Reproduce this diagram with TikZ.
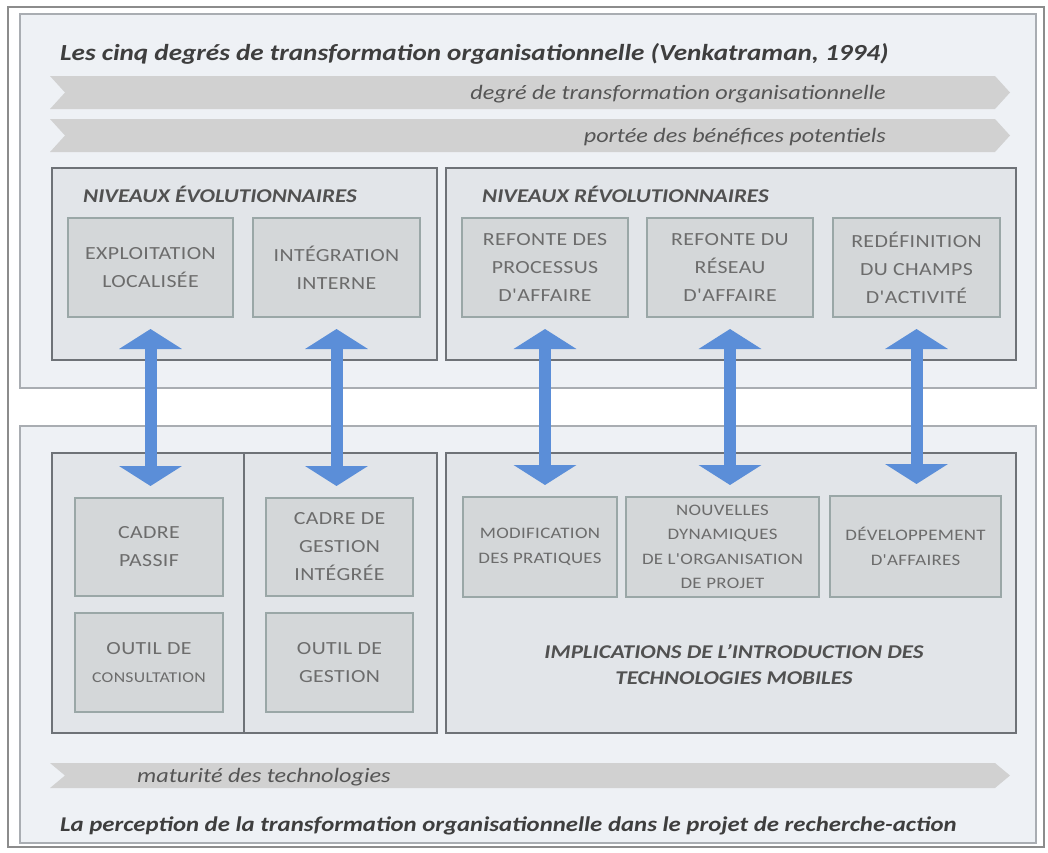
\documentclass[tikz,border=0pt]{standalone}
\usepackage{fontspec}
\setmainfont{Carlito}[FakeStretch=1.18]
\newfontfamily\boxfont{Carlito}[FakeStretch=1.18, LetterSpace=2.0]
\usetikzlibrary{arrows.meta}

\definecolor{framegray}{HTML}{8C8C8C}
\definecolor{panelfill}{HTML}{EEF1F5}
\definecolor{panelline}{HTML}{A9ADB2}
\definecolor{groupfill}{HTML}{E2E5E9}
\definecolor{groupline}{HTML}{6E7277}
\definecolor{cellfill}{HTML}{D4D7D9}
\definecolor{cellline}{HTML}{9AA7A7}
\definecolor{celltext}{HTML}{6C6C6C}
\definecolor{bandfill}{HTML}{D1D1D1}
\definecolor{bandtext}{HTML}{555555}
\definecolor{titletext}{HTML}{3E3E3E}
\definecolor{arrowblue}{HTML}{5B8ED8}

\tikzset{
  panel/.style={draw=panelline, fill=panelfill, line width=1.2pt},
  group/.style={draw=groupline, fill=groupfill, line width=1.4pt, anchor=north west,
    inner sep=0pt, outer sep=0pt},
  cell/.style={draw=cellline, fill=cellfill, line width=1.2pt, anchor=north west,
    inner sep=0pt, outer sep=0pt, align=center, text=celltext,
    font=\boxfont\fontsize{18.5}{28}\selectfont},
  smallcell/.style={cell, font=\boxfont\fontsize{16}{24.5}\selectfont},
  band/.style={fill=bandfill},
  bandlabel/.style={text=bandtext, font=\itshape\fontsize{20.5}{23}\selectfont, inner sep=0pt},
  headline/.style={text=titletext, font=\bfseries\itshape\fontsize{23}{26}\selectfont, inner sep=0pt},
  grouplabel/.style={text=titletext!90, font=\bfseries\itshape\fontsize{19.5}{22}\selectfont, inner sep=0pt},
  dblarrow/.style={draw=arrowblue, line width=12pt,
    {Triangle[length=20pt,width=62pt]}-{Triangle[length=20pt,width=62pt]}}
}

\begin{document}
\begin{tikzpicture}[x=1pt,y=-1pt]
\useasboundingbox (0,0) rectangle (1048,852);
\fill[white] (0,0) rectangle (1048,852);

% outer frame and the two panels
\draw[framegray, line width=1.5pt] (8,7) rectangle (1044,847);
\draw[panel] (20,14) rectangle (1036,388);
\draw[panel] (20,426) rectangle (1036,843);

% headline of the upper panel
\node[headline, anchor=base west] (head) at (60,60)
  {Les cinq degrés de transformation organisationnelle (Venkatraman, 1994)};

% gradient bands
\path[band] (50,76) -- (995,76) -- (1010,92.5) -- (995,109) -- (50,109) -- (65,92.5) -- cycle;
\node[bandlabel, anchor=base east] (band1) at (886,99) {degré de transformation organisationnelle};
\path[band] (50,119) -- (995,119) -- (1010,135.5) -- (995,152) -- (50,152) -- (65,135.5) -- cycle;
\node[bandlabel, anchor=base east] (band2) at (886,142) {portée des bénéfices potentiels};

% evolutionary and revolutionary levels
\node[group, minimum width=385pt, minimum height=192pt] (evo) at (52,168) {};
\node[grouplabel, anchor=base west] (evolab) at (83,202) {NIVEAUX ÉVOLUTIONNAIRES};
\node[group, minimum width=570pt, minimum height=192pt] (rev) at (446,168) {};
\node[grouplabel, anchor=base west] (revlab) at (482,202) {NIVEAUX RÉVOLUTIONNAIRES};

\node[cell, minimum width=165pt, minimum height=99pt] (expl) at (68,218) {EXPLOITATION\\LOCALISÉE};
\node[cell, minimum width=167pt, minimum height=99pt] (integ) at (253,218) {INTÉGRATION\\INTERNE};
\node[cell, minimum width=166pt, minimum height=99pt] (proc) at (462,218) {REFONTE DES\\PROCESSUS\\D'AFFAIRE};
\node[cell, minimum width=166pt, minimum height=99pt] (reseau) at (647,218) {REFONTE DU\\RÉSEAU\\D'AFFAIRE};
\node[cell, minimum width=167pt, minimum height=99pt] (champ) at (833,218) {REDÉFINITION\\DU CHAMPS\\D'ACTIVITÉ};

% lower panel: perception in the project
\node[group, minimum width=192pt, minimum height=280pt] (colA) at (52,453) {};
\node[group, minimum width=193pt, minimum height=280pt] (colB) at (244,453) {};
\node[group, minimum width=570pt, minimum height=280pt] (impl) at (446,453) {};

\node[cell, minimum width=148pt, minimum height=98pt] (passif) at (75,498) {CADRE\\PASSIF};
\node[cell, minimum width=148pt, minimum height=99pt] (consult) at (75,613)
  {OUTIL DE\\{\fontsize{15}{20}\selectfont CONSULTATION}};
\node[cell, minimum width=147pt, minimum height=98pt] (gestint) at (266,498) {CADRE DE\\GESTION\\INTÉGRÉE};
\node[cell, minimum width=147pt, minimum height=99pt] (gestion) at (266,613) {OUTIL DE\\GESTION};

\node[smallcell, minimum width=154pt, minimum height=100pt] (prat) at (463,497) {MODIFICATION\\DES PRATIQUES};
\node[smallcell, minimum width=193pt, minimum height=100pt] (dyn) at (626,497)
  {NOUVELLES\\DYNAMIQUES\\DE L'ORGANISATION\\DE PROJET};
\node[smallcell, minimum width=171pt, minimum height=101pt] (dev) at (830,496) {DÉVELOPPEMENT\\D'AFFAIRES};

\node[grouplabel, align=center, font=\bfseries\itshape\fontsize{19.5}{26}\selectfont] (impltxt) at (734,665)
  {IMPLICATIONS DE L'INTRODUCTION DES\\TECHNOLOGIES MOBILES};

% links between the levels and their perception
\draw[dblarrow] ([yshift=-12pt]expl.south) -- ([yshift=12pt]expl.south |- passif.north);
\draw[dblarrow] ([yshift=-12pt]integ.south) -- ([yshift=12pt]integ.south |- gestint.north);
\draw[dblarrow] ([yshift=-12pt]proc.south) -- ([yshift=12pt]proc.south |- prat.north);
\draw[dblarrow] ([yshift=-12pt]reseau.south) -- ([yshift=12pt]reseau.south |- dyn.north);
\draw[dblarrow] ([yshift=-12pt]champ.south) -- ([yshift=12pt]champ.south |- dev.north);

% technology maturity band and caption
\path[band] (50,763) -- (995,763) -- (1010,775.5) -- (995,788) -- (50,788) -- (65,775.5) -- cycle;
\node[bandlabel, anchor=base west] (band3) at (137,782) {maturité des technologies};
\node[headline, anchor=base west, font=\bfseries\itshape\fontsize{21}{24}\selectfont] (foot) at (60,831)
  {La perception de la transformation organisationnelle dans le projet de recherche-action};
\end{tikzpicture}
\end{document}
